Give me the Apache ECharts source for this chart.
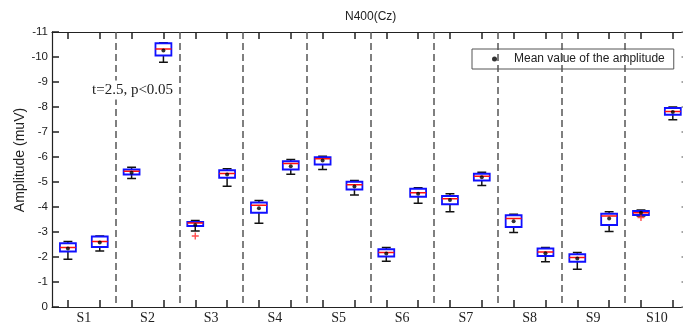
<!DOCTYPE html>
<html><head><meta charset="utf-8">
<script src="https://cdn.jsdelivr.net/npm/echarts@6/dist/echarts.min.js"></script>
<style>html,body{margin:0;padding:0;background:#fff}#c{width:683px;height:325px}</style>
</head><body><div id="c"></div>
<script>
// ---- data ----
const subjects = ['S1','S2','S3','S4','S5','S6','S7','S8','S9','S10'];
const boxPositions = [1,2,3,4,5,6,7,8,9,10,11,12,13,14,15,16,17,18,19,20];
const subjectLabelPositions = [1.5,3.5,5.5,7.5,9.5,11.5,13.5,15.5,17.5,19.5];
const separatorPositions = [2.5,4.5,6.5,8.5,10.5,12.5,14.5,16.5,18.5];
// amplitudes (muV); "upper" = more negative (higher on the inverted axis)
const upperWhisker  = [-2.62,-2.84,-5.59,-10.57,-3.46,-5.53,-4.26,-5.90,-6.03,-5.06,-2.38,-4.77,-4.53,-5.39,-3.71,-2.38,-2.18,-3.81,-3.88,-8.00];
const upperQuartile = [-2.55,-2.82,-5.50,-10.55,-3.40,-5.47,-4.18,-5.83,-5.99,-5.01,-2.31,-4.73,-4.44,-5.33,-3.67,-2.34,-2.11,-3.73,-3.84,-7.96];
const medianValue   = [-2.38,-2.62,-5.43,-10.32,-3.36,-5.34,-4.07,-5.74,-5.93,-4.89,-2.18,-4.57,-4.33,-5.23,-3.54,-2.20,-1.98,-3.64,-3.77,-7.82];
const lowerQuartile = [-2.22,-2.40,-5.30,-10.06,-3.24,-5.17,-3.77,-5.50,-5.70,-4.70,-2.02,-4.41,-4.11,-5.06,-3.20,-2.04,-1.81,-3.28,-3.68,-7.69];
const lowerWhisker  = [-1.91,-2.24,-5.14,-9.79,-3.04,-4.83,-3.35,-5.31,-5.50,-4.48,-1.83,-4.15,-3.81,-4.86,-2.98,-1.81,-1.51,-3.02,-3.64,-7.49];
const meanValue     = [-2.34,-2.58,-5.37,-10.26,-3.28,-5.30,-3.95,-5.63,-5.86,-4.82,-2.14,-4.53,-4.28,-5.19,-3.43,-2.15,-1.94,-3.54,-3.77,-7.80];
const outlierPositions = [5, 19];
const outlierValues    = [-2.84, -3.58];
const meanName = 'Mean value of the amplitude';

const boxData = boxPositions.map((p,i)=>[p, upperWhisker[i], upperQuartile[i], medianValue[i], lowerQuartile[i], lowerWhisker[i]]);
const meanData = boxPositions.map((p,i)=>[p, meanValue[i]]);
const outlierData = outlierPositions.map((p,i)=>[p, outlierValues[i]]);

function renderBox(params, api){
  const x = api.value(0);
  const uw = api.coord([x, api.value(1)]);
  const uq = api.coord([x, api.value(2)]);
  const md = api.coord([x, api.value(3)]);
  const lq = api.coord([x, api.value(4)]);
  const lw = api.coord([x, api.value(5)]);
  const unit = api.size([1,0])[0];
  const hw = unit*0.25, cw = unit*0.14, cx = md[0];
  const blk = {stroke:'#111', lineWidth:1.5};
  return {type:'group', children:[
    {type:'line', shape:{x1:cx,y1:uw[1],x2:cx,y2:uq[1]}, style:blk},
    {type:'line', shape:{x1:cx,y1:lq[1],x2:cx,y2:lw[1]}, style:blk},
    {type:'line', shape:{x1:cx-cw,y1:uw[1],x2:cx+cw,y2:uw[1]}, style:blk},
    {type:'line', shape:{x1:cx-cw,y1:lw[1],x2:cx+cw,y2:lw[1]}, style:blk},
    {type:'rect', shape:{x:cx-hw, y:Math.min(uq[1],lq[1]), width:2*hw, height:Math.abs(lq[1]-uq[1])},
      style:{fill:'rgba(255,255,255,0)', stroke:'#1010ff', lineWidth:1.8}},
    {type:'line', shape:{x1:cx-hw,y1:md[1],x2:cx+hw,y2:md[1]}, style:{stroke:'#ff1010', lineWidth:1.5}}
  ]};
}

const axisLineStyle = {color:'#222', width:1.2};
const tickStyle = {color:'#222', width:1.5};
const chart = echarts.init(document.getElementById('c'));
chart.setOption({
  animation:false,
  backgroundColor:'#fff',
  title:{text:'N400(Cz)', left:345, top:11, padding:0,
    textStyle:{fontFamily:'Liberation Sans', fontSize:12, fontWeight:'normal', color:'#222'}},
  legend:{data:[{name:meanName, icon:'circle'}], left:472, top:49, padding:[4,9,4,20],
    itemWidth:5, itemHeight:5,
    formatter:n=>'{t|'+n+'}',
    backgroundColor:'#fff', borderColor:'#555', borderWidth:1, borderRadius:0,
    textStyle:{fontFamily:'Liberation Sans', fontSize:12, color:'#222',
      rich:{t:{fontFamily:'Liberation Sans', fontSize:12, color:'#222', padding:[0,0,0,12]}}}},
  grid:{left:52, right:0, top:32, bottom:17, containLabel:false},
  xAxis:[
    {type:'value', min:0.5, max:20.32, position:'bottom',
      axisLine:{show:true, onZero:false, lineStyle:axisLineStyle},
      axisTick:{show:true, inside:true, length:7, customValues:boxPositions, lineStyle:tickStyle},
      axisLabel:{show:true, customValues:subjectLabelPositions, margin:4,
        formatter:v=>subjects[Math.round((v-1.5)/2)],
        fontFamily:'Liberation Serif', fontSize:14, color:'#222'},
      splitLine:{show:false}},
    {type:'value', min:0.5, max:20.32, position:'top',
      axisLine:{show:true, onZero:false, lineStyle:axisLineStyle},
      axisTick:{show:true, inside:true, length:7, customValues:boxPositions, lineStyle:tickStyle},
      axisLabel:{show:false}, splitLine:{show:false}}
  ],
  yAxis:[
    {type:'value', inverse:true, min:-11, max:0, interval:1, position:'left',
      axisLine:{show:true, onZero:false, lineStyle:axisLineStyle},
      axisTick:{show:true, inside:true, length:7, lineStyle:tickStyle},
      axisLabel:{margin:4, fontFamily:'Liberation Sans', fontSize:11.5, color:'#222'},
      splitLine:{show:false}},
    {type:'value', inverse:true, min:-11, max:0, interval:1, position:'right',
      axisLine:{show:false},
      axisTick:{show:true, inside:true, length:1.5, lineStyle:{color:'#888', width:1.5}},
      axisLabel:{show:false}, splitLine:{show:false}}
  ],
  graphic:[
    {type:'text', x:20, y:160, rotation:Math.PI/2, z:100,
      style:{text:'Amplitude (muV)', align:'center', verticalAlign:'middle',
        font:'14px "Liberation Sans"', fill:'#222'}},
    {type:'text', x:92, y:90, z:100,
      style:{text:'t=2.5, p<0.05', align:'left', verticalAlign:'middle',
        font:'15px "Liberation Serif"', fill:'#222', backgroundColor:'#fff', padding:[2,0,2,0]}}
  ],
  series:[
    {type:'custom', name:'boxes', renderItem:renderBox, data:boxData,
      encode:{x:0, y:[1,2,3,4,5]}, z:3},
    {type:'scatter', name:meanName, data:meanData, symbol:'circle', symbolSize:4,
      itemStyle:{color:'#000'}, z:5,
      markLine:{silent:true, symbol:['none','none'], label:{show:false},
        lineStyle:{type:[7,4], color:'#555', width:1.5},
        data:separatorPositions.map(v=>({xAxis:v}))}},
    {type:'scatter', name:'outliers', data:outlierData,
      symbol:'path://M4,0 H6 V4 H10 V6 H6 V10 H4 V6 H0 V4 H4 Z', symbolSize:7,
      itemStyle:{color:'#ff2020'}, z:4}
  ]
});
</script></body></html>
